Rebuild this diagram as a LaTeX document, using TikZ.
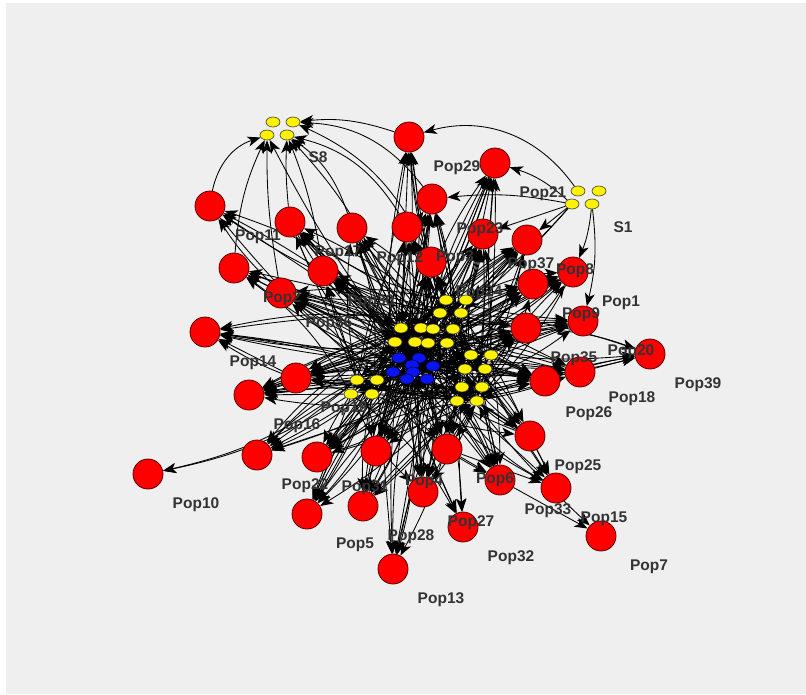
\documentclass[tikz,border=0pt]{standalone}
\usepackage{fontspec}
\setmainfont{Liberation Sans}
\usetikzlibrary{arrows.meta,shapes.geometric}
\definecolor{panelgray}{HTML}{EFEFEF}
\definecolor{popred}{HTML}{FF0000}
\definecolor{popline}{HTML}{5A0000}
\definecolor{siteyellow}{HTML}{FFF200}
\definecolor{coreblue}{HTML}{0A14F0}
\definecolor{labgray}{HTML}{333333}
\pgfdeclarelayer{canvas}
\pgfdeclarelayer{edges}
\pgfsetlayers{canvas,edges,main}
\begin{document}
\begin{tikzpicture}[x=1pt,y=-1pt,
  pop/.style={circle,draw=popline,fill=popred,minimum size=30pt,inner sep=0pt,line width=0.8pt},
  site/.style={ellipse,draw=black!80,fill=siteyellow,minimum width=14pt,minimum height=10pt,inner sep=0pt,line width=0.6pt},
  core/.style={site,fill=coreblue,draw=black!70!blue},
  lab/.style={font=\fontsize{15.5}{16}\selectfont\bfseries,text=labgray,inner sep=0pt},
  link/.style={draw=black,line width=0.85pt,-{Stealth[length=13pt,width=10pt,inset=3.5pt]}}]
% canvas
\begin{pgfonlayer}{canvas}
\fill[white] (0,0) rectangle (806,694);
\fill[panelgray] (6,3) rectangle (806,694);
\end{pgfonlayer}
\useasboundingbox (0,0) rectangle (806,694);

% population nodes
\foreach \k/\x/\y in {
  1/409/137, 2/495/163, 3/432/199, 4/210/206,
  5/290/222, 6/352/228, 7/407/227, 8/483/234,
  9/527/240, 10/431/262, 11/234/268, 12/323/271,
  13/281/293, 14/573/272, 15/533/284, 16/205/332,
  17/583/321, 18/526/328, 19/650/354, 20/580/372,
  21/545/381, 22/296/378, 23/249/395, 24/530/436,
  25/257/455, 26/317/457, 27/376/451, 28/447/449,
  29/148/474, 30/500/480, 31/556/488, 32/423/492,
  33/307/514, 34/363/506, 35/463/527, 36/601/536,
  37/393/569}
  {\node[pop] (R\k) at (\x,\y) {};}

% central sites: yellow groups and blue core
\foreach \k/\x/\y in {
  1/446/300, 2/466/300, 3/440/313, 4/461/313, 5/401/328, 6/421/328,
  7/433/329, 8/453/329, 9/395/342, 10/415/342, 11/428/343, 12/447/343,
  13/471/355, 14/491/355, 15/465/369, 16/485/369, 17/462/387, 18/482/387,
  19/457/401, 20/477/401, 21/357/380, 22/377/380, 23/351/394, 24/372/394}
  {\node[site] (K\k) at (\x,\y) {};}
\foreach \k/\x/\y in {
  25/399/358, 26/419/358, 27/412/365, 28/433/366,
  29/393/372, 30/413/372, 31/407/379, 32/427/379}
  {\node[core] (K\k) at (\x,\y) {};}

% outer sites S8 and S1
\node[site] (S8a) at (273,122) {};
\node[site] (S8b) at (293,122) {};
\node[site] (S8c) at (267,135) {};
\node[site] (S8d) at (287,135) {};
\node[site] (S1a) at (578,191) {};
\node[site] (S1b) at (599,191) {};
\node[site] (S1c) at (572,204) {};
\node[site] (S1d) at (592,204) {};

% links
\begin{pgfonlayer}{edges}
% from the central sites out to the populations
\foreach \k/\m in {1/4,2/4,3/3,4/6,5/4,6/3,7/3,8/3,9/3,10/3,11/5,12/3,13/3,
  14/4,15/3,16/4,17/4,18/3,19/8,20/4,21/3,22/3,23/3,24/4,25/4,26/3,27/3,
  28/3,29/99,30/4,31/6,32/3,33/4,34/4,35/6,36/99,37/6}{
  \foreach \s in {1,...,32}{
    \pgfmathtruncatemacro{\hit}{mod(13*\s+11*\k,\m)}
    \pgfmathtruncatemacro{\bnd}{mod(3*\s+2*\k,7)*4-12}
    \ifnum\hit=0
      \draw[link] (K\s) to[bend left=\bnd] (R\k);
    \fi
  }
}
% from the populations back into the central sites
\foreach \k in {2,3,5,6,7,8,9,10,12,13,14,15,17,18,20,21,22,23,24,26,27,28,30,32,34}{
  \foreach \s in {1,...,32}{
    \pgfmathtruncatemacro{\hit}{mod(17*\s+5*\k,10)}
    \pgfmathtruncatemacro{\bnd}{mod(\s+\k,5)*4-8}
    \ifnum\hit=0
      \draw[link] (R\k) to[bend left=\bnd] (K\s);
    \fi
  }
}
% links among the central sites
\foreach \a/\b in {1/25,3/29,5/21,9/23,13/27,17/31,19/32,7/22,11/24,15/26,2/30,
  20/21,8/28,14/6,4/31,16/29,18/10,12/23,6/19,10/17,24/14,22/2,26/13,30/1,
  28/9,32/5,27/20,31/3,25/18,29/16}
  {\draw[link] (K\a) to[bend left=6] (K\b);}
% far populations
\draw[link] (K21) to[bend left=12] (R29);
\draw[link] (K23) to[bend left=10] (R29);
\draw[link] (R30) -- (R36);
\draw[link] (K17) to[bend right=4] (R36);
\draw[link] (K32) -- (R37);
\draw[link] (K22) -- (R37);
\draw[link] (K24) to[bend left=5] (R33);
\draw[link] (K29) to[bend right=5] (R33);
% population to population
\draw[link] (R20) -- (R19);
\draw[link] (R21) to[bend left=5] (R19);
\draw[link] (R18) to[bend left=8] (R19);
\draw[link] (R28) -- (R31);
\draw[link] (R24) -- (R31);
\draw[link] (R28) -- (R30);
\draw[link] (R22) -- (R16);
\draw[link] (R13) -- (R11);
\draw[link] (R13) to[bend left=6] (R4);
% links into S8
\draw[link] (R4) to[bend left=30] (S8c);
\draw[link] (R11) to[bend left=10] (S8c);
\draw[link] (R5) to[bend left=4] (S8d);
\draw[link] (R13) to[bend left=5] (S8c);
\draw[link] (R12) to[bend right=6] (S8d);
\draw[link] (R6) to[bend right=18] (S8d);
\draw[link] (R7) to[bend right=22] (S8d);
\draw[link] (R10) to[bend right=20] (S8b);
\draw[link] (R3) to[bend right=25] (S8b);
\draw[link] (R1) to[bend right=12] (S8b);
\draw[link] (K5) to[bend right=12] (S8d);
\draw[link] (K9) to[bend left=4] (S8c);
% links out of S1
\draw[link] (S1a) to[bend right=35] (R1);
\draw[link] (S1c) to[bend right=12] (R2);
\draw[link] (S1c) to[bend right=8] (R3);
\draw[link] (S1c) to (R8);
\draw[link] (S1c) to (R9);
\draw[link] (S1d) to[bend left=8] (R14);
\draw[link] (S1d) to[bend left=10] (R17);
\draw[link] (S1c) to[bend left=6] (K2);
\draw[link] (S1c) to[bend left=4] (K4);
\end{pgfonlayer}

% population labels
\foreach \x/\y/\t in {
  409/137/Pop29, 495/163/Pop21, 432/199/Pop23, 210/206/Pop11, 290/222/Pop17,
  352/228/Pop12, 407/227/Pop3, 483/234/Pop37, 527/240/Pop8, 431/262/Pop24,
  234/268/Pop2, 323/271/Pop30, 281/293/Pop36, 573/272/Pop1, 533/284/Pop9,
  205/332/Pop14, 583/321/Pop20, 526/328/Pop35, 650/354/Pop39, 584/368/Pop18,
  541/383/Pop26, 296/378/Pop19, 249/395/Pop16, 530/436/Pop25, 257/455/Pop22,
  317/457/Pop31, 376/451/Pop4, 447/449/Pop6, 148/474/Pop10, 500/480/Pop33,
  556/488/Pop15, 423/492/Pop27, 307/514/Pop5, 363/506/Pop28, 463/527/Pop32,
  601/536/Pop7, 393/569/Pop13}
  {\node[lab] at (\x+48,\y+31) {\t};}
\node[lab] (S8lab) at (318,157) {S8};
\node[lab] (S1lab) at (623,227) {S1};
\end{tikzpicture}
\end{document}
